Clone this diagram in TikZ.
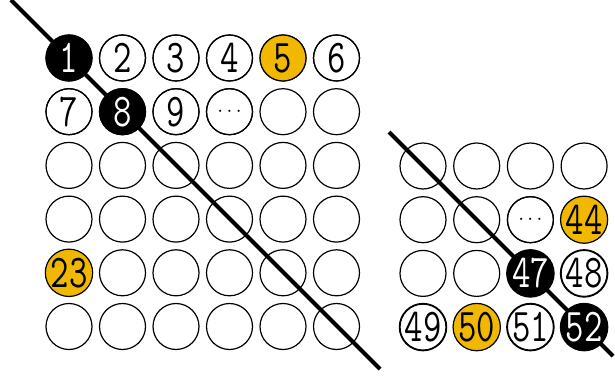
\documentclass[tikz,border=0pt]{standalone}
\usepackage{graphicx}
\definecolor{gold}{RGB}{240,184,0}
\newcommand{\num}[1]{\scalebox{0.76}[1]{#1}}
\begin{document}
\begin{tikzpicture}[x=1pt,y=-1pt,
  ball/.style={circle,draw=black,line width=1.2pt,minimum size=46pt,inner sep=0pt,
    font=\fontsize{47}{47}\selectfont\ttfamily},
  blackball/.style={ball,fill=black,text=white},
  goldball/.style={ball,fill=gold},
  dotball/.style={ball,font=\fontsize{20}{20}\selectfont},
  slash/.style={line width=4pt}]
\useasboundingbox (0,0) rectangle (615,379);
% diagonal lines
\coordinate (LA) at (11,0);
\coordinate (LB) at (380,369);
\coordinate (RA) at (389,132);
\coordinate (RB) at (613,356);
\draw[slash] (LA) -- (LB);
\draw[slash] (RA) -- (RB);
% left grid
\foreach \r in {0,...,5}{
  \foreach \c in {0,...,5}{
    \node[ball] (g\r\c) at ({69+53.5*\c},{58+53.7*\r}) {};
  }
}
\node[blackball] (n1) at (g00) {\num{1}};
\node[ball] (n2) at (g01) {\num{2}};
\node[ball] (n3) at (g02) {\num{3}};
\node[ball] (n4) at (g03) {\num{4}};
\node[goldball] (n5) at (g04) {\num{5}};
\node[ball] (n6) at (g05) {\num{6}};
\node[ball] (n7) at (g10) {\num{7}};
\node[blackball] (n8) at (g11) {\num{8}};
\node[ball] (n9) at (g12) {\num{9}};
\node[dotball] (ndl) at (g13) {$\cdots$};
\node[goldball] (n23) at (g40) {\num{23}};
% right grid
\foreach \r in {0,...,3}{
  \foreach \c in {0,...,3}{
    \node[ball] (h\r\c) at ({423+53.7*\c},{166+53.7*\r}) {};
  }
}
\node[dotball] (ndr) at (h12) {$\cdots$};
\node[goldball] (n44) at (h13) {\num{44}};
\node[blackball] (n47) at (h22) {\num{47}};
\node[ball] (n48) at (h23) {\num{48}};
\node[ball] (n49) at (h30) {\num{49}};
\node[goldball] (n50) at (h31) {\num{50}};
\node[ball] (n51) at (h32) {\num{51}};
\node[blackball] (n52) at (h33) {\num{52}};
\end{tikzpicture}
\end{document}
